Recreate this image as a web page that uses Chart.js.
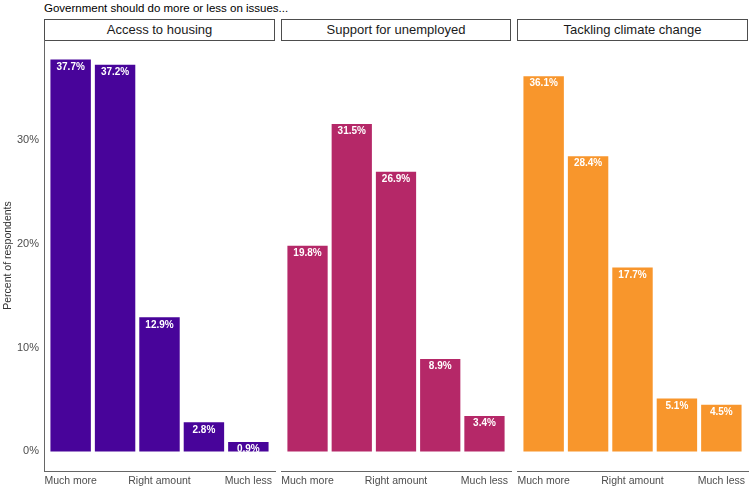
<!DOCTYPE html>
<html>
<head>
<meta charset="utf-8">
<script src="https://cdn.jsdelivr.net/npm/chart.js@4"></script>
<style>
  body { margin: 0; background: #fff; font-family: "Liberation Sans", Arial, sans-serif; }
  #wrap { position: relative; width: 754px; height: 503px; overflow: hidden; }
  .title { position: absolute; left: 44px; top: 2px; font-size: 11.5px; color: #000; white-space: nowrap; }
  .strip { position: absolute; top: 19px; height: 20px; border: 1px solid #4d4d4d; box-sizing: content-box;
           font-size: 13px; line-height: 20px; text-align: center; color: #1a1a1a; }
  .panel { position: absolute; top: 34px; height: 469px; }
</style>
</head>
<body>
<div id="wrap">
  <div class="title">Government should do more or less on issues...</div>
</div>
<script>
// facets
const issues = ['Access to housing', 'Support for unemployed', 'Tackling climate change'];
const colors = ['#48049a', '#b52868', '#f8962c'];

// answer categories (x axis), only odd ones are labelled
const categories = ['Much more', 'More', 'Right amount', 'Less', 'Much less'];
const tickLabels = ['Much more', '', 'Right amount', '', 'Much less'];

// percent of respondents
const housing = [37.7, 37.2, 12.9, 2.8, 0.9];
const unemployed = [19.8, 31.5, 26.9, 8.9, 3.4];
const climate = [36.1, 28.4, 17.7, 5.1, 4.5];

const yTicks = [0, 10, 20, 30];

const series = [housing, unemployed, climate];

// panel x ranges in page pixels
const panels = [[44, 275], [281, 511], [517, 748]];
const pad = 6;

const barLabels = {
    id: 'barLabels',
    afterDatasetsDraw(chart) {
        const ctx = chart.ctx;
        const meta = chart.getDatasetMeta(0);
        ctx.save();
        ctx.font = 'bold 10px "Liberation Sans", Arial, sans-serif';
        ctx.fillStyle = '#ffffff';
        ctx.textAlign = 'center';
        ctx.textBaseline = 'middle';
        meta.data.forEach((bar, i) => {
            ctx.fillText(chart.data.datasets[0].data[i].y.toFixed(1) + '%', bar.x, bar.y + 7.5);
        });
        ctx.restore();
    }
};

const wrap = document.getElementById('wrap');

issues.forEach((name, p) => {
    const [x0, x1] = panels[p];

    const strip = document.createElement('div');
    strip.className = 'strip';
    strip.style.left = x0 + 'px';
    strip.style.width = (x1 - x0 - 2) + 'px';
    strip.textContent = name;
    wrap.appendChild(strip);

    const first = p === 0;
    const left = first ? 0 : x0 - pad;
    const width = (x1 + pad) - left;

    const box = document.createElement('div');
    box.className = 'panel';
    box.style.left = left + 'px';
    box.style.width = width + 'px';
    const canvas = document.createElement('canvas');
    box.appendChild(canvas);
    wrap.appendChild(box);

    new Chart(canvas, {
        type: 'bar',
        data: {
            datasets: [{
                label: name,
                data: series[p].map((v, i) => ({ x: i + 1, y: v, cat: categories[i] })),
                backgroundColor: colors[p],
                borderWidth: 0,
                barPercentage: 0.91,
                categoryPercentage: 1
            }]
        },
        options: {
            responsive: true,
            maintainAspectRatio: false,
            animation: false,
            layout: { padding: { left: first ? 0 : pad, right: pad, top: 6, bottom: 6 } },
            plugins: {
                legend: { display: false },
                tooltip: { enabled: false }
            },
            scales: {
                x: {
                    type: 'linear',
                    offset: false,
                    min: 0.4,
                    max: 5.6,
                    afterBuildTicks: s => { s.ticks = [1, 3, 5].map(v => ({ value: v })); },
                    afterFit: s => { s.height = 26; s.paddingLeft = 0; s.paddingRight = 0; },
                    grid: { display: false, drawTicks: false, offset: false },
                    border: { display: true, color: '#666666', width: 1 },
                    ticks: {
                        padding: 4,
                        maxRotation: 0,
                        autoSkip: false,
                        color: '#4d4d4d',
                        font: { family: '"Liberation Sans", Arial, sans-serif', size: 10.5 },
                        callback: v => tickLabels[v - 1]
                    }
                },
                y: {
                    display: first,
                    min: -1.885,
                    max: 39.585,
                    afterBuildTicks: s => { s.ticks = yTicks.map(v => ({ value: v })); },
                    afterFit: s => {
                        if (first) s.width = 44;
                        s.paddingTop = 0;
                        s.paddingBottom = 0;
                    },
                    grid: { display: false, drawTicks: false },
                    border: { display: true, color: '#666666', width: 1 },
                    title: {
                        display: true,
                        text: 'Percent of respondents',
                        color: '#333333',
                        padding: 2,
                        font: { family: '"Liberation Sans", Arial, sans-serif', size: 10.5 }
                    },
                    ticks: {
                        padding: 5,
                        color: '#4d4d4d',
                        font: { family: '"Liberation Sans", Arial, sans-serif', size: 11 },
                        callback: v => v + '%'
                    }
                }
            }
        },
        plugins: [barLabels]
    });
});
</script>
</body>
</html>
